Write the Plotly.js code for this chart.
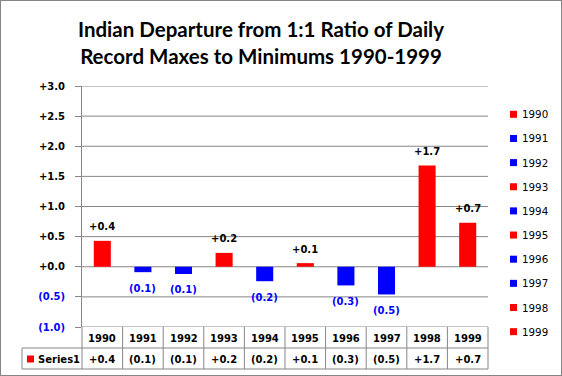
<!DOCTYPE html>
<html>
<head>
<meta charset="utf-8">
<script src="https://cdn.plot.ly/plotly-3.0.1.min.js"></script>
<style>
  html, body { margin: 0; padding: 0; background: #fff; }
  #wrap { position: relative; width: 562px; height: 376px; }
  #chart { width: 562px; height: 376px; }
  #frame { position: absolute; left: 0; top: 0; width: 560px; height: 374px; border: 1px solid #868686; pointer-events: none; }
</style>
</head>
<body>
<div id="wrap"><div id="chart"></div><div id="frame"></div></div>
<script>
// ---- data ----
const years = ['1990', '1991', '1992', '1993', '1994', '1995', '1996', '1997', '1998', '1999'];
const departures = [0.43, -0.09, -0.12, 0.23, -0.24, 0.06, -0.31, -0.46, 1.68, 0.73];
const yTickVals = [-1, -0.5, 0, 0.5, 1, 1.5, 2, 2.5, 3];
const seriesName = 'Series1';
const titleText = 'Indian Departure from 1:1 Ratio of Daily<br>Record Maxes to Minimums 1990-1999';

// ---- styling / geometry ----
const RED = '#FF0000', BLUE = '#0000FF', GRID = '#868686';
const W = 562, H = 376, L = 82, R = 74, T = 86, B = 49;
const plotW = W - L - R, plotH = H - T - B;
const px = x => (x - L) / plotW;          // pixel x -> paper x
const py = y => (H - B - y) / plotH;      // pixel y -> paper y
const fmt = v => v >= 0 ? '+' + v.toFixed(1) : '(' + Math.abs(v).toFixed(1) + ')';
const colorOf = v => v >= 0 ? RED : BLUE;
const FS = 10;
const BOLD = {family: 'DejaVu Sans', size: FS, color: '#000', weight: 'bold'};

const trace = {
  type: 'bar',
  x: years,
  y: departures,
  marker: {color: departures.map(colorOf), line: {width: 0}},
  hoverinfo: 'x+y',
  showlegend: false
};

const annotations = [];
const shapes = [];
const lineStyle = {color: GRID, width: 1};

// horizontal gridlines at every y tick (behind the bars)
yTickVals.forEach(v => {
  shapes.push({type: 'line', layer: 'below', xref: 'paper', yref: 'y', x0: 0, x1: 1, y0: v, y1: v, line: lineStyle});
});

// data labels
departures.forEach((v, i) => {
  annotations.push({
    x: i, y: v, xref: 'x', yref: 'y', xanchor: 'center', yanchor: 'middle',
    text: fmt(v), showarrow: false,
    yshift: v >= 0 ? 14 : -16,
    font: {family: 'DejaVu Sans', size: FS, weight: 'bold', color: v >= 0 ? '#000' : BLUE}
  });
});

// data table
const n = years.length;
const row1 = py(338), row2 = py(359);
years.forEach((yr, i) => {
  annotations.push({x: i, y: row1, xref: 'x', yref: 'paper', xanchor: 'center', yanchor: 'middle', text: yr, showarrow: false, font: BOLD});
  annotations.push({x: i, y: row2, xref: 'x', yref: 'paper', xanchor: 'center', yanchor: 'middle', text: fmt(departures[i]), showarrow: false, font: BOLD});
});
annotations.push({x: px(35.5), y: row2, xref: 'paper', yref: 'paper', xanchor: 'left', yanchor: 'middle', text: seriesName, showarrow: false, font: BOLD});
shapes.push({type: 'rect', xref: 'paper', yref: 'paper', x0: px(27), x1: px(34), y0: py(355.5), y1: py(362.5), fillcolor: RED, line: {width: 0}});

shapes.push({type: 'line', xref: 'paper', yref: 'paper', x0: px(22), x1: 1, y0: py(348), y1: py(348), line: lineStyle});
shapes.push({type: 'line', xref: 'paper', yref: 'paper', x0: px(22), x1: 1, y0: py(369), y1: py(369), line: lineStyle});
shapes.push({type: 'line', xref: 'paper', yref: 'paper', x0: px(22), x1: px(22), y0: py(348), y1: py(369), line: lineStyle});
shapes.push({type: 'line', xref: 'paper', yref: 'paper', x0: 0, x1: 0, y0: 0, y1: py(369), line: lineStyle});
for (let i = 0; i < n; i++) {
  const xp = (i + 1) / n;
  shapes.push({type: 'line', xref: 'paper', yref: 'paper', x0: xp, x1: xp, y0: 0, y1: py(369), line: lineStyle});
}

// right-hand legend (one entry per year, coloured by sign)
years.forEach((yr, i) => {
  const cy = 114.3 + 24.15 * i;
  shapes.push({type: 'rect', xref: 'paper', yref: 'paper', x0: px(510), x1: px(517), y0: py(cy + 3.5), y1: py(cy - 3.5),
    fillcolor: colorOf(departures[i]), line: {width: 0}});
  annotations.push({x: px(520), y: py(cy), xref: 'paper', yref: 'paper', xanchor: 'left', yanchor: 'middle', text: yr, showarrow: false,
    font: {family: 'DejaVu Sans', size: 10.3, color: '#000'}});
});

const tickText = yTickVals.map(v => v < 0 ? '<span style="color:' + BLUE + '">' + fmt(v) + '</span>' : fmt(v));

const layout = {
  width: W, height: H,
  margin: {l: L, r: R, t: T, b: B, pad: 0},
  paper_bgcolor: '#fff', plot_bgcolor: '#fff',
  showlegend: false,
  bargap: 0.58,
  title: {
    text: titleText,
    font: {family: 'Lato', size: 20.5, weight: 'bold', color: '#000'},
    xref: 'container', x: 261 / W, xanchor: 'center',
    yref: 'container', y: 1 - 37 / H, yanchor: 'middle'
  },
  xaxis: {
    type: 'category', range: [-0.5, n - 0.5],
    showticklabels: false, showgrid: false, showline: false, zeroline: false, ticks: '', fixedrange: true
  },
  yaxis: {
    range: [-1, 3], tickmode: 'array', tickvals: yTickVals, ticktext: tickText,
    showline: true, linecolor: GRID, linewidth: 1,
    ticks: 'outside', ticklen: 6, tickcolor: GRID, tickwidth: 1,
    showgrid: false, zeroline: false,
    ticklabelstandoff: 8,
    tickfont: {family: 'DejaVu Sans', size: FS, weight: 'bold', color: '#000'},
    fixedrange: true
  },
  annotations: annotations,
  shapes: shapes
};

Plotly.newPlot('chart', [trace], layout, {displayModeBar: false, staticPlot: true});
</script>
</body>
</html>
